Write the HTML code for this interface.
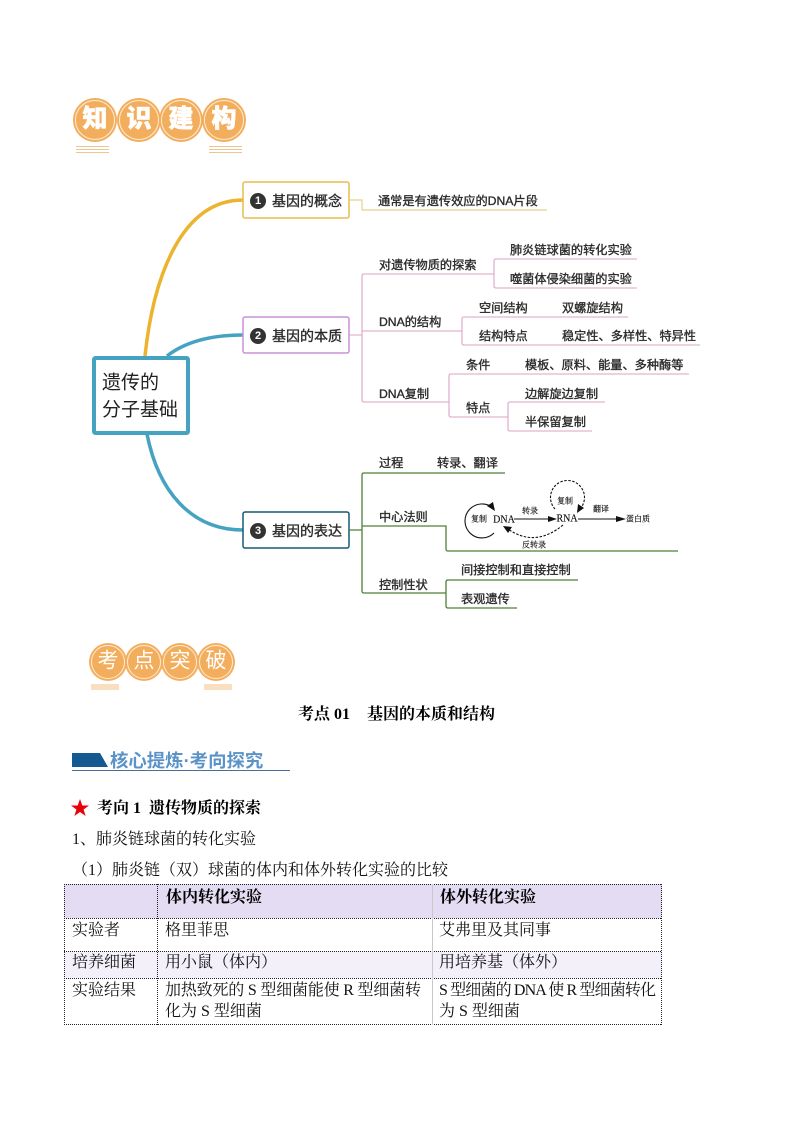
<!DOCTYPE html>
<html lang="zh">
<head>
<meta charset="utf-8">
<style>
html,body{margin:0;padding:0;background:#fff}
svg{display:block}
.m{font-family:"Liberation Sans","Noto Sans CJK SC",sans-serif;font-size:12.2px;fill:#2b2b2b;stroke:#2b2b2b;stroke-width:.35;dominant-baseline:central}
.b{font-family:"Liberation Sans","Noto Sans CJK SC",sans-serif;font-size:14px;fill:#2b2b2b;stroke:#2b2b2b;stroke-width:.35;dominant-baseline:central}
.d{font-family:"Liberation Serif","Noto Serif CJK SC",serif;font-size:8px;fill:#111;stroke:#111;stroke-width:.15;text-anchor:middle;dominant-baseline:central}
.s{font-family:"Liberation Serif","Noto Serif CJK SC",serif;font-size:16px;fill:#111}
.h{font-family:"Liberation Serif","Noto Serif CJK SC",serif;font-size:16px;font-weight:bold;fill:#000}
.n{font-family:"Liberation Sans",sans-serif;font-size:11px;font-weight:bold;fill:#fff;text-anchor:middle;dominant-baseline:central}
.t1{font-family:"Liberation Sans","Noto Sans CJK SC",sans-serif;font-size:25px;font-weight:900;fill:#fff;stroke:#fff;stroke-width:.5;text-anchor:middle;dominant-baseline:central}
.t2{font-family:"Liberation Sans","Noto Sans CJK SC",sans-serif;font-size:21px;fill:#fff;text-anchor:middle;dominant-baseline:central}
</style>
</head>
<body>
<svg xmlns="http://www.w3.org/2000/svg" width="794" height="1123" viewBox="0 0 794 1123">
<rect width="794" height="1123" fill="#fff"/>

<!-- 知识建构 -->
<g fill="#f3ae5d">
<circle cx="95" cy="120" r="22"/><circle cx="139" cy="120" r="22"/><circle cx="181" cy="120" r="22"/><circle cx="224" cy="120" r="22"/>
</g>
<g fill="none" stroke="#fcecd6" stroke-width="1">
<circle cx="95" cy="120" r="19.5"/><circle cx="139" cy="120" r="19.5"/><circle cx="181" cy="120" r="19.5"/><circle cx="224" cy="120" r="19.5"/>
</g>
<text class="t1" x="95" y="119">知</text><text class="t1" x="139" y="119">识</text><text class="t1" x="181" y="119">建</text><text class="t1" x="224" y="119">构</text>
<path d="M76 146.500H109M76 149.500H109M76 152.500H109M209 146.500H242M209 149.500H242M209 152.500H242" fill="none" stroke="#ebc78f" stroke-width="1"/>

<!-- main curves -->
<g fill="none" stroke-width="3.500">
<path d="M145 356C153 280 180 200 243 200" stroke="#ecb42e"/>
<path d="M167 356C185 342 210 335 243 335" stroke="#45a3c1"/>
<path d="M147 434C158 490 190 530 243 530" stroke="#45a3c1"/>
</g>

<!-- center -->
<rect x="94" y="358" width="94" height="75" rx="1.500" fill="#fff" stroke="#45a3c1" stroke-width="4"/>
<text x="102" y="383" style="font-family:'Liberation Sans','Noto Sans CJK SC',sans-serif;font-size:19px;fill:#222;dominant-baseline:central">遗传的</text>
<text x="102" y="410" style="font-family:'Liberation Sans','Noto Sans CJK SC',sans-serif;font-size:19px;fill:#222;dominant-baseline:central">分子基础</text>

<!-- topic boxes -->
<rect x="243" y="182" width="106" height="36" rx="2" fill="#fff" stroke="#e8bb4b" stroke-width="1.500"/>
<rect x="243" y="317" width="106" height="36" rx="2" fill="#fff" stroke="#c792d8" stroke-width="1.500"/>
<rect x="243" y="512" width="106" height="36" rx="2" fill="#fff" stroke="#155a73" stroke-width="1.500"/>
<circle cx="258" cy="201" r="8" fill="#333"/><text class="n" x="258" y="201">1</text>
<circle cx="258" cy="336" r="8" fill="#333"/><text class="n" x="258" y="336">2</text>
<circle cx="258" cy="531" r="8" fill="#333"/><text class="n" x="258" y="531">3</text>
<text class="b" x="272" y="201">基因的概念</text>
<text class="b" x="272" y="336">基因的本质</text>
<text class="b" x="272" y="531">基因的表达</text>

<!-- connectors -->
<path d="M349 200H362V210H547" fill="none" stroke="#e4d28c" stroke-width="1.200"/>
<g fill="none" stroke="#dba3c3" stroke-width="1.100">
<path d="M349 335H362M494 274H364Q362 274 362 276V400Q362 402 364 402H449"/>
<path d="M362 331H462"/>
<path d="M637 259H496Q494 259 494 261V286Q494 288 496 288H637"/>
<path d="M628 317H464Q462 317 462 319V343Q462 345 464 345H700"/>
<path d="M689 374H451Q449 374 449 376V415Q449 417 451 417H508"/>
<path d="M605 402H510Q508 402 508 404V429Q508 431 510 431H592"/>
</g>
<g fill="none" stroke="#4f8038" stroke-width="1.300">
<path d="M349 530H362M505 473H364Q362 473 362 475V591Q362 593 364 593H446"/>
<path d="M362 526H446V549Q446 551 448 551H678"/>
<path d="M578 580H448Q446 580 446 582V606Q446 608 448 608H517"/>
</g>

<!-- labels -->
<text class="m" x="378" y="201">通常是有遗传效应的DNA片段</text>
<text class="m" x="379" y="265">对遗传物质的探索</text>
<text class="m" x="510" y="250">肺炎链球菌的转化实验</text>
<text class="m" x="510" y="279">噬菌体侵染细菌的实验</text>
<text class="m" x="379" y="322">DNA的结构</text>
<text class="m" x="479" y="308">空间结构</text>
<text class="m" x="562" y="308">双螺旋结构</text>
<text class="m" x="479" y="336">结构特点</text>
<text class="m" x="562" y="336">稳定性、多样性、特异性</text>
<text class="m" x="466" y="365">条件</text>
<text class="m" x="525" y="365">模板、原料、能量、多种酶等</text>
<text class="m" x="379" y="394">DNA复制</text>
<text class="m" x="466" y="408">特点</text>
<text class="m" x="525" y="394">边解旋边复制</text>
<text class="m" x="525" y="422">半保留复制</text>
<text class="m" x="379" y="463">过程</text>
<text class="m" x="437" y="463">转录、翻译</text>
<text class="m" x="379" y="517">中心法则</text>
<text class="m" x="379" y="585">控制性状</text>
<text class="m" x="461" y="570">间接控制和直接控制</text>
<text class="m" x="461" y="599">表观遗传</text>

<!-- central dogma diagram -->
<g fill="none" stroke="#111" stroke-width="1.100">
<path d="M494 533A17 17 0 1 1 493 508"/>
<path d="M514 519H552"/>
<path d="M578 519H618"/>
<path d="M555 509A17 17 0 1 1 579 510" stroke-dasharray="2.500 1.500"/>
<path d="M563 525Q535 548 508 529" stroke-dasharray="2.500 1.500"/>
</g>
<g fill="#111">
<polygon points="495,511 487,506 493,502"/>
<polygon points="557,519 548,516 548,522"/>
<polygon points="626,519 616,516 616,522"/>
<polygon points="577,513 578,504 584,508"/>
<polygon points="503,526 512,527 508,533"/>
</g>
<text class="d" x="479" y="519">复制</text>
<text class="d" x="504" y="520" style="font-size:10px">DNA</text>
<text class="d" x="530" y="511">转录</text>
<text class="d" x="567" y="519" style="font-size:10px">RNA</text>
<text class="d" x="565" y="501">复制</text>
<text class="d" x="601" y="509">翻译</text>
<text class="d" x="638" y="519">蛋白质</text>
<text class="d" x="534" y="545">反转录</text>

<!-- 考点突破 -->
<g fill="#f3ae5d">
<circle cx="108" cy="662" r="19"/><circle cx="144" cy="662" r="19"/><circle cx="180" cy="662" r="19"/><circle cx="216" cy="662" r="19"/>
</g>
<g fill="none" stroke="#fcecd6" stroke-width="1">
<circle cx="108" cy="662" r="16.500"/><circle cx="144" cy="662" r="16.500"/><circle cx="180" cy="662" r="16.500"/><circle cx="216" cy="662" r="16.500"/>
</g>
<text class="t2" x="108" y="661">考</text><text class="t2" x="144" y="661">点</text><text class="t2" x="180" y="661">突</text><text class="t2" x="216" y="661">破</text>
<rect x="91" y="684" width="28" height="6" fill="#f9dfc0"/>
<rect x="204" y="684" width="28" height="6" fill="#f9dfc0"/>

<text class="h" x="298" y="719">考点 01</text>
<text class="h" x="367" y="719">基因的本质和结构</text>

<!-- sub heading -->
<polygon points="72,753 100,753 108,767 72,767" fill="#14598f"/>
<path d="M72 770.500H290" stroke="#3f709c" stroke-width="1"/>
<text x="110" y="767" style="font-family:'Liberation Sans','Noto Sans CJK SC',sans-serif;font-size:18.400px;font-weight:bold;fill:#5b93c7">核心提炼·考向探究</text>

<polygon points="80,799 82.300,805.500 89,805.500 83.600,809.500 85.600,816 80,812 74.400,816 76.400,809.500 71,805.500 77.700,805.500" fill="#e8000b"/>
<text class="h" x="97" y="813">考向 1</text>
<text class="h" x="149" y="813">遗传物质的探索</text>
<text class="s" x="72" y="844">1、肺炎链球菌的转化实验</text>
<text class="s" x="72" y="875">（1）肺炎链（双）球菌的体内和体外转化实验的比较</text>

<!-- table -->
<rect x="64" y="884" width="598" height="34" fill="#e4dcf2"/>
<rect x="64" y="951" width="598" height="27" fill="#f3f0fa"/>
<g fill="none" stroke="#222" stroke-width="1" stroke-dasharray="1 1">
<path d="M64 884.500H662M64 918.500H662M64 951.500H662M64 978.500H662M64 1024.500H662"/>
<path d="M64.500 884V1025M157.500 884V1025M661.500 884V1025"/>
</g>
<path d="M432.500 884V1025" stroke="#c9c9c9" stroke-width="1"/>
<text class="h" x="166" y="902">体内转化实验</text>
<text class="h" x="440" y="902">体外转化实验</text>
<text class="s" x="72" y="935">实验者</text>
<text class="s" x="165" y="935">格里菲思</text>
<text class="s" x="439" y="935">艾弗里及其同事</text>
<text class="s" x="72" y="967">培养细菌</text>
<text class="s" x="165" y="967">用小鼠（体内）</text>
<text class="s" x="439" y="967">用培养基（体外）</text>
<text class="s" x="72" y="995">实验结果</text>
<text class="s" x="165" y="995" textLength="256">加热致死的 S 型细菌能使 R 型细菌转</text>
<text class="s" x="165" y="1016">化为 S 型细菌</text>
<text class="s" x="439" y="995" textLength="217">S 型细菌的 DNA 使 R 型细菌转化</text>
<text class="s" x="439" y="1016">为 S 型细菌</text>
</svg>
</body>
</html>
